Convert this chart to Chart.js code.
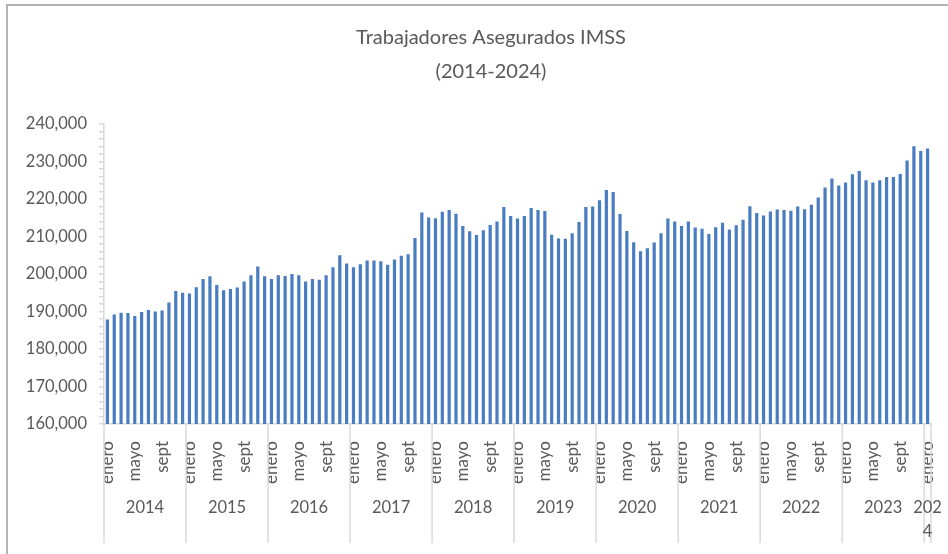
<!DOCTYPE html>
<html>
<head>
<meta charset="utf-8">
<script src="https://cdn.jsdelivr.net/npm/chart.js@4.4.1/dist/chart.umd.min.js"></script>
<style>
  html, body { margin: 0; padding: 0; background: #fff; }
</style>
</head>
<body>
<canvas id="myChart" width="948" height="554"></canvas>
<script>
const anios = ["2014", "2015", "2016", "2017", "2018", "2019", "2020", "2021", "2022", "2023", "2024"]
const meses = ["enero", "feb", "mar", "abril", "mayo", "jun", "jul", "ago", "sept", "oct", "nov", "dic"]
// trabajadores asegurados, enero 2014 - enero 2024
const valores = [
  187900, 189200, 189700, 189600, 188800, 189900, 190400, 190000, 190300, 192400, 195500, 195000,
  194800, 196500, 198700, 199400, 197100, 195700, 196000, 196400, 198000, 199700, 202000, 199400,
  198700, 199700, 199500, 200000, 199700, 198000, 198700, 198500, 199700, 201800, 205000, 202800,
  201800, 202600, 203600, 203600, 203400, 202500, 203900, 204900, 205300, 209600, 216400, 215100,
  214900, 216600, 217100, 216100, 212800, 211400, 210400, 211700, 213100, 214000, 217900, 215500,
  214800, 215500, 217600, 217100, 216800, 210500, 209500, 209400, 210900, 213900, 217900, 218000,
  219700, 222400, 221900, 216000, 211500, 208500, 206100, 206900, 208400, 210900, 214800, 214000,
  212800, 214000, 212400, 212100, 210700, 212500, 213700, 211900, 213000, 214500, 218100, 216300,
  215600, 216700, 217200, 217100, 216900, 218000, 217300, 218500, 220400, 223100, 225500, 223600,
  224400, 226600, 227500, 225000, 224400, 225000, 225900, 225900, 226700, 230300, 234100, 232800,
  233500,
]
const yMin = 160000
const yMax = 240000
const yPaso = 10000
const yMenor = 2000

const etiquetas = valores.map((v, i) => meses[i % 12])

Chart.defaults.font.family = "Lato"
Chart.defaults.color = "#595959"

const gris = "#d9d9d9"

const marco = {
  id: "marco",
  afterDraw: function (chart) {
    const ctx = chart.ctx
    const x = chart.scales.x
    const area = chart.chartArea
    ctx.save()
    // borde del area del grafico
    ctx.strokeStyle = "#b4b4b4"
    ctx.lineWidth = 2
    ctx.strokeRect(7, 5, 1000, 1000)
    // separadores y etiquetas de los anios
    const borde = (i) => {
      if (i <= 0) return area.left
      if (i >= valores.length) return area.right
      return (x.getPixelForValue(i - 1) + x.getPixelForValue(i)) / 2
    }
    ctx.strokeStyle = gris
    ctx.lineWidth = 1.5
    ctx.font = "16.5px Lato"
    ctx.fillStyle = "#595959"
    ctx.textAlign = "center"
    ctx.textBaseline = "middle"
    for (let a = 0; a < anios.length; a++) {
      const x0 = borde(a * 12)
      const x1 = borde(Math.min(a * 12 + 12, valores.length))
      ctx.beginPath()
      ctx.moveTo(x0, area.bottom)
      ctx.lineTo(x0, 543)
      ctx.stroke()
      if (a === anios.length - 1) {
        ctx.beginPath()
        ctx.moveTo(x1, area.bottom)
        ctx.lineTo(x1, 543)
        ctx.stroke()
      }
      const texto = anios[a]
      const cx = (x0 + x1) / 2
      if (ctx.measureText(texto).width > x1 - x0 + 8) {
        ctx.fillText(texto.slice(0, 3), cx, 508)
        ctx.fillText(texto.slice(3), cx, 532)
      } else {
        ctx.fillText(texto, cx, 508)
      }
    }
    ctx.restore()
  },
}

const ctx = document.getElementById("myChart").getContext("2d")
const myChart = new Chart(ctx, {
  type: "bar",
  data: {
    labels: etiquetas,
    datasets: [
      {
        label: "Trabajadores Asegurados IMSS",
        data: valores,
        backgroundColor: "#4a7dc0",
        barPercentage: 0.47,
        categoryPercentage: 1,
      },
    ],
  },
  options: {
    responsive: false,
    animation: false,
    layout: {
      // el titulo queda centrado en x = 491 como en el original
      padding: { left: 20, right: -14, top: 0, bottom: 0 },
    },
    plugins: {
      legend: { display: false },
      tooltip: { enabled: false },
      title: {
        display: true,
        text: ["Trabajadores Asegurados IMSS", "(2014-2024)"],
        color: "#595959",
        font: { size: 20, weight: "normal", lineHeight: 1.7 },
        padding: { top: 21, bottom: 35 },
      },
    },
    scales: {
      x: {
        grid: { display: false, drawTicks: false },
        border: { display: true, color: gris, width: 1.5 },
        ticks: {
          autoSkip: false,
          maxRotation: 90,
          minRotation: 90,
          padding: 17,
          font: { size: 17 },
          callback: function (value, index) {
            return index % 4 === 0 ? this.getLabelForValue(value) : ""
          },
        },
        afterFit: function (scale) {
          scale.height = 130
          scale.paddingLeft = 0
          scale.paddingRight = 0
        },
      },
      y: {
        min: yMin,
        max: yMax,
        grid: { drawOnChartArea: false, drawTicks: true, tickLength: 5, color: gris, lineWidth: 1.5 },
        border: { display: true, color: gris, width: 1.5 },
        ticks: {
          autoSkip: false,
          padding: 12,
          font: { size: 16.5 },
          callback: function (value) {
            return value % yPaso === 0 ? value.toLocaleString("en-US") : ""
          },
        },
        afterBuildTicks: function (scale) {
          const t = []
          for (let v = yMin; v <= yMax; v += yMenor) t.push({ value: v })
          scale.ticks = t
        },
        afterFit: function (scale) {
          scale.width = 84
        },
      },
      yDer: {
        position: "right",
        display: true,
        grid: { display: false, drawTicks: false },
        border: { display: false },
        ticks: { display: false },
        afterFit: function (scale) {
          scale.width = 31
        },
      },
    },
  },
  plugins: [marco],
})
</script>
</body>
</html>
